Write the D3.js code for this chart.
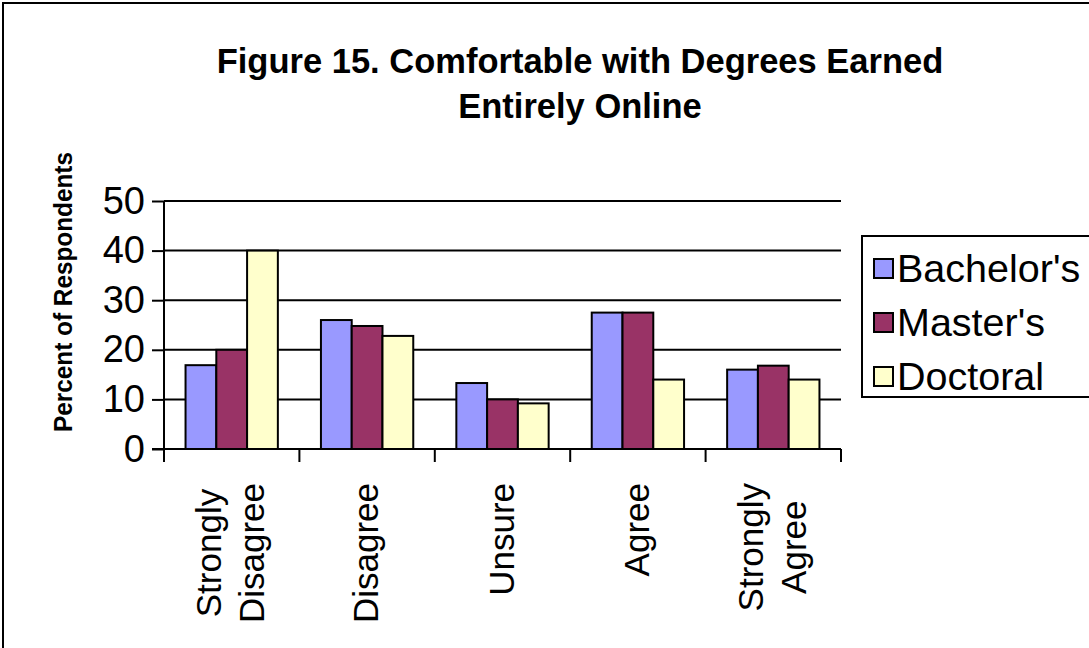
<!DOCTYPE html>
<html>
<head>
<meta charset="utf-8">
<script src="https://cdn.jsdelivr.net/npm/d3@7/dist/d3.min.js"></script>
<style>
  html, body { margin: 0; padding: 0; background: #fff; }
  svg { display: block; font-family: "Liberation Sans", Arial, sans-serif; }
</style>
</head>
<body>
<svg id="chart" width="1089" height="648"></svg>
<script>
// Survey responses, percent of respondents per degree type
const categories = [["Strongly", "Disagree"], ["Disagree"], ["Unsure"], ["Agree"], ["Strongly", "Agree"]];
const seriesNames = ["Bachelor's", "Master's", "Doctoral"];
const bachelors = [16.9, 26, 13.3, 27.5, 16];
const masters = [20, 24.8, 10, 27.5, 16.8];
const doctoral = [40, 22.8, 9.2, 14, 14];
const yTicks = [0, 10, 20, 30, 40, 50];
const seriesColors = ["#9999FF", "#993366", "#FFFFCC"];
const titleLines = ["Figure 15. Comfortable with Degrees Earned", "Entirely Online"];
const yTitle = "Percent of Respondents";

const seriesValues = [bachelors, masters, doctoral];
const catKeys = categories.map(c => c.join(" "));

const svg = d3.select("#chart");

// outer chart frame (extends past the right and bottom edges)
svg.append("rect")
  .attr("x", 3).attr("y", 3)
  .attr("width", 1200).attr("height", 800)
  .attr("fill", "#fff").attr("stroke", "#000").attr("stroke-width", 2);

const plot = { left: 164, right: 841, top: 201, bottom: 449 };

const x0 = d3.scaleBand().domain(catKeys).range([plot.left, plot.right]).padding(0);
const x1 = d3.scaleBand().domain(seriesNames).range([0, x0.bandwidth()])
  .paddingInner(0).paddingOuter(0.7);
const y = d3.scaleLinear().domain([0, 50]).range([plot.bottom, plot.top]);

// title
svg.append("text")
  .attr("x", 580).attr("y", 73)
  .attr("text-anchor", "middle")
  .attr("font-size", 34.5).attr("font-weight", "bold")
  .selectAll("tspan").data(titleLines).join("tspan")
  .attr("x", 580).attr("dy", (d, i) => i === 0 ? 0 : 45)
  .text(d => d);

// horizontal gridlines
svg.append("g")
  .selectAll("line").data(yTicks.filter(t => t > 0)).join("line")
  .attr("x1", plot.left).attr("x2", plot.right)
  .attr("y1", d => y(d)).attr("y2", d => y(d))
  .attr("stroke", "#000").attr("stroke-width", 2);

// bars
const groups = svg.append("g")
  .selectAll("g").data(catKeys).join("g")
  .attr("transform", d => `translate(${x0(d)},0)`);

groups.selectAll("rect")
  .data((d, ci) => seriesNames.map((s, si) => ({ s, si, v: seriesValues[si][ci] })))
  .join("rect")
  .attr("x", d => x1(d.s))
  .attr("width", x1.bandwidth())
  .attr("y", d => y(d.v))
  .attr("height", d => y(0) - y(d.v))
  .attr("fill", d => seriesColors[d.si])
  .attr("stroke", "#000").attr("stroke-width", 2);

// y axis
const yAxis = d3.axisLeft(y).tickValues(yTicks).tickSize(12).tickPadding(7)
  .tickFormat(d3.format("d"));
const gy = svg.append("g").attr("transform", `translate(${plot.left},0)`).call(yAxis);
gy.select(".domain").attr("stroke", "#000").attr("stroke-width", 2)
  .attr("d", `M0,${plot.top}V${plot.bottom + 13}`);
gy.selectAll(".tick line").attr("stroke", "#000").attr("stroke-width", 2);
gy.selectAll(".tick text").attr("font-size", 38).attr("fill", "#000")
  .attr("font-family", "Liberation Sans, Arial, sans-serif");

// x axis baseline and category boundary ticks
svg.append("line")
  .attr("x1", plot.left - 12).attr("x2", plot.right)
  .attr("y1", y(0)).attr("y2", y(0))
  .attr("stroke", "#000").attr("stroke-width", 2);
const boundaries = catKeys.map(k => x0(k)).concat([plot.right]);
svg.append("g").selectAll("line").data(boundaries).join("line")
  .attr("x1", d => d).attr("x2", d => d)
  .attr("y1", y(0)).attr("y2", y(0) + 13)
  .attr("stroke", "#000").attr("stroke-width", 2);

// rotated category labels, top-aligned under the axis, lines centred on each other
const labelTop = 483, labelSize = 35, lineGap = 43;
categories.forEach((lines, ci) => {
  const cx = x0(catKeys[ci]) + x0.bandwidth() / 2 - 2;
  const g = svg.append("g");
  const t = g.append("text")
    .attr("font-size", labelSize)
    .attr("text-anchor", "middle")
    .attr("dominant-baseline", "central");
  t.selectAll("tspan").data(lines).join("tspan")
    .attr("x", 0)
    .attr("y", (d, i) => (i - (lines.length - 1) / 2) * lineGap)
    .text(d => d);
  let maxLen = 0;
  t.selectAll("tspan").each(function () { maxLen = Math.max(maxLen, this.getComputedTextLength()); });
  g.attr("transform", `translate(${cx},${labelTop + maxLen / 2}) rotate(-90)`);
});

// y axis title
svg.append("text")
  .attr("transform", "translate(63,292) rotate(-90)")
  .attr("text-anchor", "middle").attr("dominant-baseline", "central")
  .attr("font-size", 26).attr("font-weight", "bold")
  .attr("textLength", 280).attr("lengthAdjust", "spacingAndGlyphs")
  .text(yTitle);

// legend
const legend = svg.append("g");
legend.append("rect")
  .attr("x", 862).attr("y", 236).attr("width", 300).attr("height", 161)
  .attr("fill", "#fff").attr("stroke", "#000").attr("stroke-width", 2);
const rowY = d3.scalePoint().domain(seriesNames).range([268, 376]);
const rows = legend.selectAll("g.row").data(seriesNames).join("g")
  .attr("class", "row")
  .attr("transform", d => `translate(0,${rowY(d)})`);
rows.append("rect")
  .attr("x", 874).attr("y", -9).attr("width", 19).attr("height", 19)
  .attr("fill", (d, i) => seriesColors[i]).attr("stroke", "#000").attr("stroke-width", 2);
rows.append("text")
  .attr("x", 897).attr("dominant-baseline", "central")
  .attr("font-size", 39.5)
  .text(d => d);
</script>
</body>
</html>
